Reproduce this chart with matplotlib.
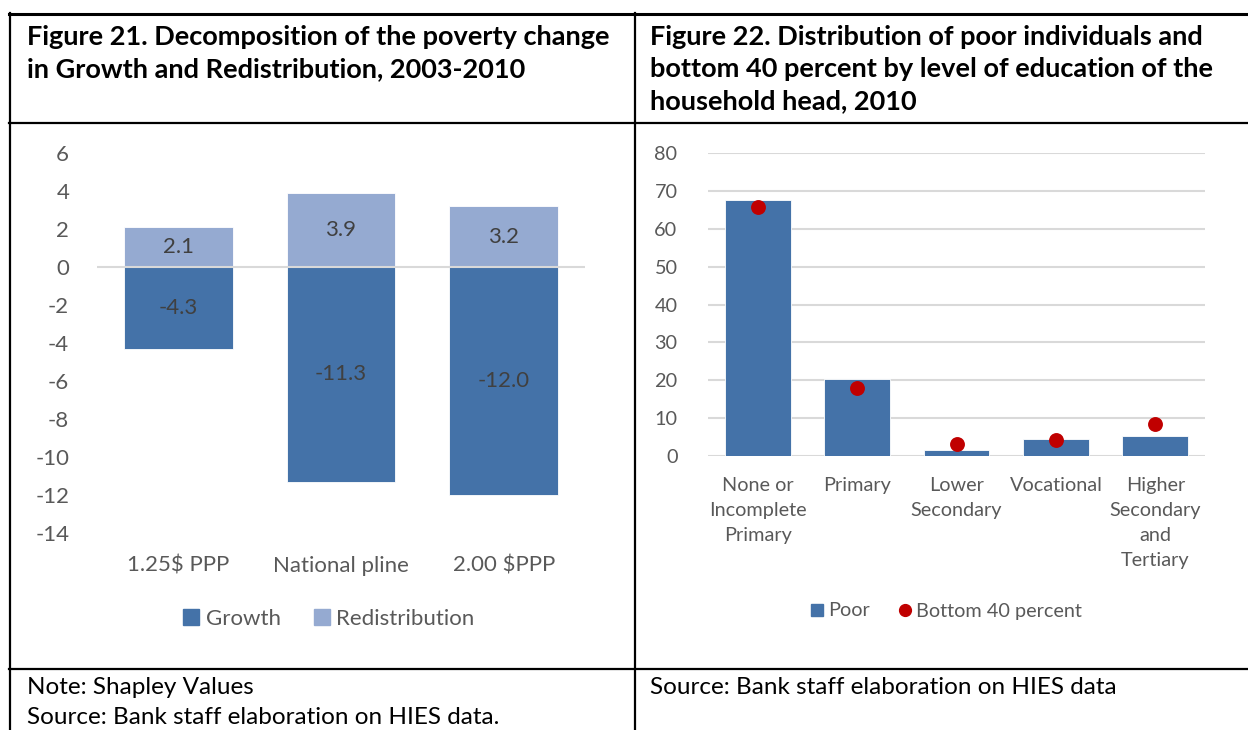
import numpy as np
import matplotlib.pyplot as plt
from matplotlib.lines import Line2D
from matplotlib.patches import Patch

# data for figure 21
lines_21 = ["1.25$ PPP", "National pline", "2.00 $PPP"]
growth = [-4.3, -11.3, -12.0]
redistribution = [2.1, 3.9, 3.2]

# data for figure 22
edu_levels = ["None or\nIncomplete\nPrimary", "Primary", "Lower\nSecondary",
              "Vocational", "Higher\nSecondary\nand\nTertiary"]
poor = [67.7, 20.2, 1.7, 4.5, 5.3]
bottom40 = [65.7, 18.0, 3.3, 4.3, 8.4]

W, H = 1248, 730
C_GROWTH = "#4472A8"
C_REDIS = "#95AAD1"
C_DOT = "#C00000"
C_TXT = "#595959"
FS = 16    # left chart text size
FS2 = 14.3  # right chart text size

plt.rcParams['font.family'] = ['Lato', 'DejaVu Sans']
plt.rcParams['axes.unicode_minus'] = False

fig = plt.figure(figsize=(W / 100, H / 100), dpi=100)


def box(x0, y0, x1, y1):
    # pixel box (top-left origin) -> figure fractions
    return [x0 / W, 1 - y1 / H, (x1 - x0) / W, (y1 - y0) / H]


def fx(x):
    return x / W


def fy(y):
    return 1 - y / H


# table lines
def hline(y, x0, x1, lw=1.6):
    fig.add_artist(Line2D([fx(x0), fx(x1)], [fy(y), fy(y)], color="black", lw=lw))


def vline(x, y0, y1, lw=1.6):
    fig.add_artist(Line2D([fx(x), fx(x)], [fy(y0), fy(y1)], color="black", lw=lw))


hline(13.5, 9, 1248, lw=2.2)
hline(123, 9, 1248)
hline(669, 9, 1248)
vline(9.5, 13, 730)
vline(634.5, 13, 730)

# titles
fig.text(fx(27), fy(53), "Figure 21. Decomposition of the poverty change\nin Growth and Redistribution, 2003-2010",
         ha="left", va="center", fontsize=19.5, fontweight="bold", linespacing=1.4, color="black")
fig.text(fx(650), fy(69), "Figure 22. Distribution of poor individuals and\nbottom 40 percent by level of education of the\nhousehold head, 2010",
         ha="left", va="center", fontsize=19.5, fontweight="bold", linespacing=1.4, color="black")

# footers
fig.text(fx(27), fy(687), "Note: Shapley Values", ha="left", va="center", fontsize=17.5, color="black")
fig.text(fx(27), fy(718), "Source: Bank staff elaboration on HIES data.", ha="left", va="center", fontsize=17.5, color="black")
fig.text(fx(650), fy(687), "Source: Bank staff elaboration on HIES data", ha="left", va="center", fontsize=17.5, color="black")

# ---- Figure 21 ----
ax1 = fig.add_axes(box(97, 153, 585, 533))
x = np.arange(len(lines_21))
bw = 0.67
ax1.bar(x, growth, width=bw, color=C_GROWTH, edgecolor="white", linewidth=0.6, zorder=2)
ax1.bar(x, redistribution, width=bw, color=C_REDIS, edgecolor="white", linewidth=0.6, zorder=2)
ax1.axhline(0, color="#D9D9D9", lw=1.5, zorder=3)
for i in range(len(x)):
    ax1.text(x[i], growth[i] / 2, f"{growth[i]:.1f}",
             ha="center", va="center", fontsize=FS, color="#404040", zorder=4)
    ax1.text(x[i], redistribution[i] / 2, f"{redistribution[i]:.1f}",
             ha="center", va="center", fontsize=FS, color="#404040", zorder=4)
ax1.set_xlim(-0.5, len(x) - 0.5)
ax1.set_ylim(-14, 6)
ax1.set_yticks(np.arange(-14, 7, 2))
ax1.set_xticks([])
for s in ax1.spines.values():
    s.set_visible(False)
ax1.tick_params(axis="y", length=0, pad=20, labelsize=FS, labelcolor=C_TXT)
# category labels below the plot, at pixel row 566
for i, lab in enumerate(lines_21):
    ax1.text(x[i], (533 - 566) / 380, lab, transform=ax1.get_xaxis_transform(),
             ha="center", va="center", fontsize=FS, color=C_TXT)

h1 = [Patch(color=C_GROWTH), Patch(color=C_REDIS)]
fig.legend(h1, ["Growth", "Redistribution"], loc="center", bbox_to_anchor=(fx(329), fy(619)),
           ncol=2, frameon=False, fontsize=FS, handlelength=0.7, handleheight=0.7,
           handletextpad=0.3, columnspacing=1.5, labelcolor=C_TXT)

# ---- Figure 22 ----
ax2 = fig.add_axes(box(708, 153, 1205, 456))
x2 = np.arange(len(edu_levels))
ax2.bar(x2, poor, width=0.66, color=C_GROWTH, edgecolor="white", linewidth=0.6, zorder=2)
ax2.scatter(x2, bottom40, s=115, color=C_DOT, zorder=3, linewidths=0)
ax2.set_xlim(-0.5, len(x2) - 0.5)
ax2.set_ylim(0, 80)
ax2.set_yticks(np.arange(0, 81, 10))
ax2.grid(axis="y", color="#D9D9D9", lw=1.5, zorder=0)
ax2.set_axisbelow(True)
for s in ax2.spines.values():
    s.set_visible(False)
ax2.set_xticks(x2)
ax2.set_xticklabels(edu_levels, fontsize=FS2, color=C_TXT, linespacing=1.57, va="top")
ax2.tick_params(axis="x", length=0, pad=15)
ax2.tick_params(axis="y", length=0, pad=22, labelsize=FS2, labelcolor=C_TXT)

h2 = [Line2D([], [], marker="s", ls="none", color=C_GROWTH, markersize=8.5),
      Line2D([], [], marker="o", ls="none", color=C_DOT, markersize=8.5)]
fig.legend(h2, ["Poor", "Bottom 40 percent"], loc="center", bbox_to_anchor=(fx(946), fy(611)),
           ncol=2, frameon=False, fontsize=FS2, handlelength=0.7, handletextpad=0.2,
           columnspacing=1.4, labelcolor=C_TXT)

fig.savefig("out.png", dpi=100)
